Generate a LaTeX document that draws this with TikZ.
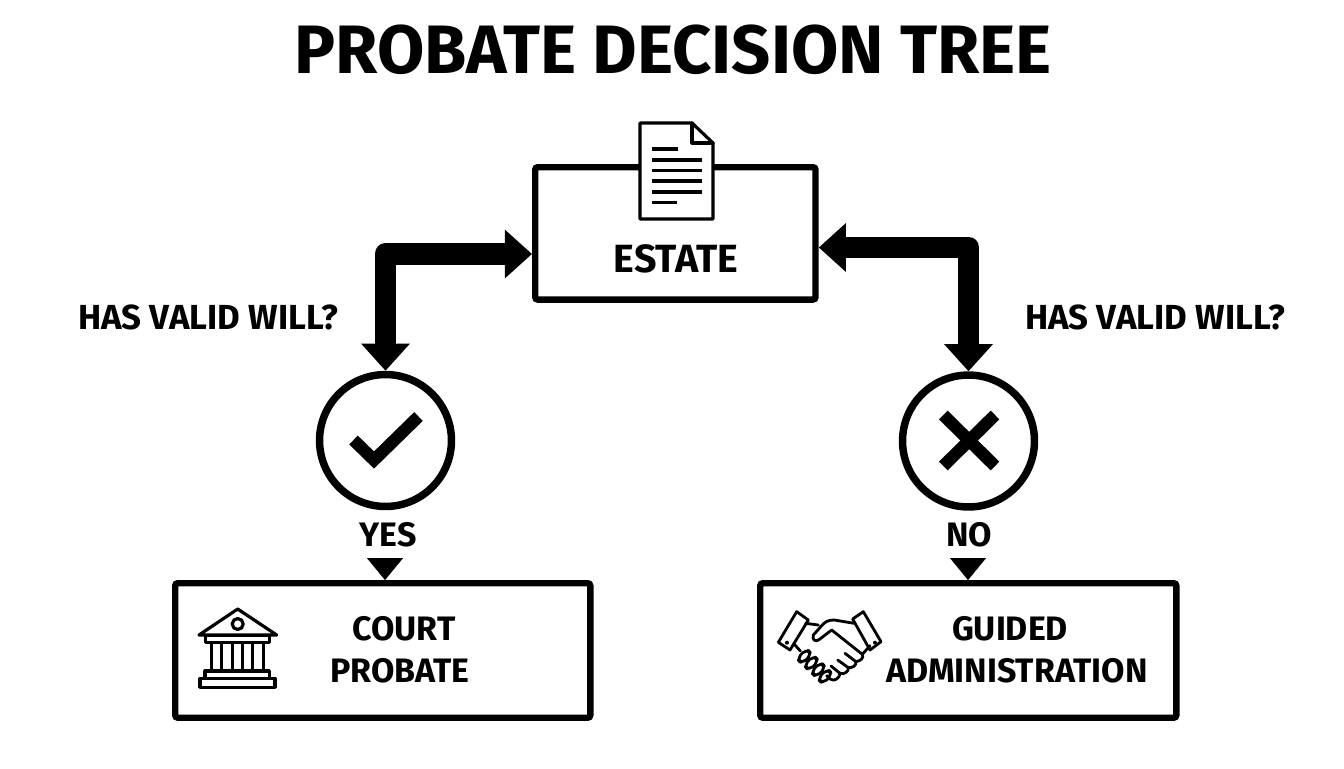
\documentclass[tikz,border=0pt]{standalone}
\usepackage{fontspec}
\setmainfont{Fira Sans}
\usetikzlibrary{arrows.meta,calc}
\newcommand{\labelfont}[1]{\fontsize{#1}{#1}\selectfont\bfseries}

\tikzset{
    box/.style={draw, line width=3.6pt, rounded corners=1.5pt, inner sep=0pt, anchor=north west},
    verdict/.style={draw, circle, line width=4.25pt, minimum size=75.1pt, inner sep=0pt},
    thickarrow/.style={line width=12.5pt, line join=round, {Triangle[length=15.4pt,width=26.7pt]}-{Triangle[length=15.4pt,width=26.7pt]}},
    smallarrow/.style={line width=0.2pt, -{Triangle[length=12.5pt,width=20.5pt]}},
    icon/.style={line width=1.8pt, line join=round, line cap=round},
    handline/.style={icon, line width=1.6pt},
    glyph/.style={line width=7pt},
    caption/.style={font=\labelfont{19.3}, inner sep=0pt},
}

\begin{document}
\begin{tikzpicture}[x=0.02cm,y=-0.02cm]

    \useasboundingbox (0,0) rectangle (1344,768);

    \node[font=\labelfont{39}, inner sep=0pt] (title) at (673,50) {PROBATE DECISION TREE};

    % boxes
    \node[box, minimum width=159.6pt, minimum height=75.4pt] (estate) at (532,164) {};
    \node[box, minimum width=236.3pt, minimum height=76.6pt] (court) at (172,580) {};
    \node[box, minimum width=236.9pt, minimum height=76.6pt] (guided) at (757,580) {};
    \node[caption, font=\labelfont{22.4}] (estatetext) at (676,259) {ESTATE};
    \node[caption] (courttext) at (404,629) {COURT};
    \node[caption] (probatetext) at (400,671) {PROBATE};
    \node[caption] (guidedtext) at (1010,629) {GUIDED};
    \node[caption] (admintext) at (1017,671) {ADMINISTRATION};

    % circles
    \node[verdict] (yescircle) at (385.5,440.5) {};
    \node[verdict] (nocircle) at (968.5,441) {};
    \draw[glyph] (353.5,440) -- (374,460) -- (418.5,416.5);
    \draw[glyph] (943.3,415) -- (995,466);
    \draw[glyph] (995,415) -- (943.3,466);

    % arrows
    \draw[thickarrow] (estate.west |- 0,254) -| (yescircle.north);
    \draw[thickarrow] (estate.east |- 0,247.5) -| (nocircle.north);

    \node[caption, font=\labelfont{19.8}] (willleft) at (208,317) {HAS VALID WILL?};
    \node[caption, font=\labelfont{19.8}] (willright) at (1155,317) {HAS VALID WILL?};
    \node[caption] (yestext) at (388,535) {YES};
    \node[caption] (notext) at (969,535) {NO};

    \coordinate (yesgap) at (385,558);
    \coordinate (nogap) at (968,558);
    \draw[smallarrow] (yesgap) -- (yesgap |- court.north);
    \draw[smallarrow] (nogap) -- (nogap |- guided.north);

    % document
    \draw[icon, fill=white] (640,123) -- (692,123) -- (713,143) -- (713,219) -- (640,219) -- cycle;
    \draw[icon] (692,123) -- (692,143) -- (713,143);
    \foreach \y/\xend in {149/678,160/702,170.5/702,181/702,192/702,202.5/677}
        \draw[icon, line cap=butt] (652,\y) -- (\xend,\y);

    % bank
    \draw[icon] (199,635) -- (237.7,609) -- (276.7,635) -- cycle;
    \draw[icon] (237.7,624) circle (5.5);
    \draw[icon] (205.7,635.7) rectangle (269.3,642.7);
    \foreach \x in {211.7,221.7,232.3,242.7,252.3,263.3}
        \draw[icon] (\x,642.7) -- (\x,671);
    \draw[icon] (205,671) rectangle (269.3,678.3);
    \draw[icon] (200,678.3) rectangle (275,687.3);

    % handshake
    \begin{scope}[shift={(775,605)}, x=0.00667cm, y=-0.00667cm]
        \draw[handline] (65,20) -- (100,45) -- (45,135) -- (10,112) -- cycle;
        \draw[handline] (265,20) -- (233,42) -- (285,135) -- (318,110) -- cycle;
        \fill (36,113) circle (6);
        \fill (300,113) circle (6);
        \draw[handline] (92,55) -- (130,60);
        \draw[handline] (238,55) -- (178,45) .. controls (160,45) and (150,50) .. (140,62) -- (115,90)
            .. controls (110,105) and (122,112) .. (132,104) -- (170,75) -- (262,148);
        \draw[handline] (285,122) -- (262,148) .. controls (268,160) and (255,168) .. (243,170)
            .. controls (245,182) and (230,190) .. (220,188)
            .. controls (222,200) and (205,210) .. (195,205)
            .. controls (195,218) and (178,232) .. (165,222) -- (155,212);
        \draw[handline] (210,145) -- (243,170);
        \draw[handline] (188,165) -- (220,188);
        \draw[handline] (168,183) -- (195,205);
        \draw[handline] (58,118) -- (76,138);
        \foreach \fx/\fy in {88/154,109/174,130/194,150/214}
            \draw[handline, rounded corners=3pt, rotate around={45:(\fx,\fy)}] ({\fx-21},{\fy-11}) rectangle ({\fx+21},{\fy+11});
    \end{scope}

\end{tikzpicture}
\end{document}
